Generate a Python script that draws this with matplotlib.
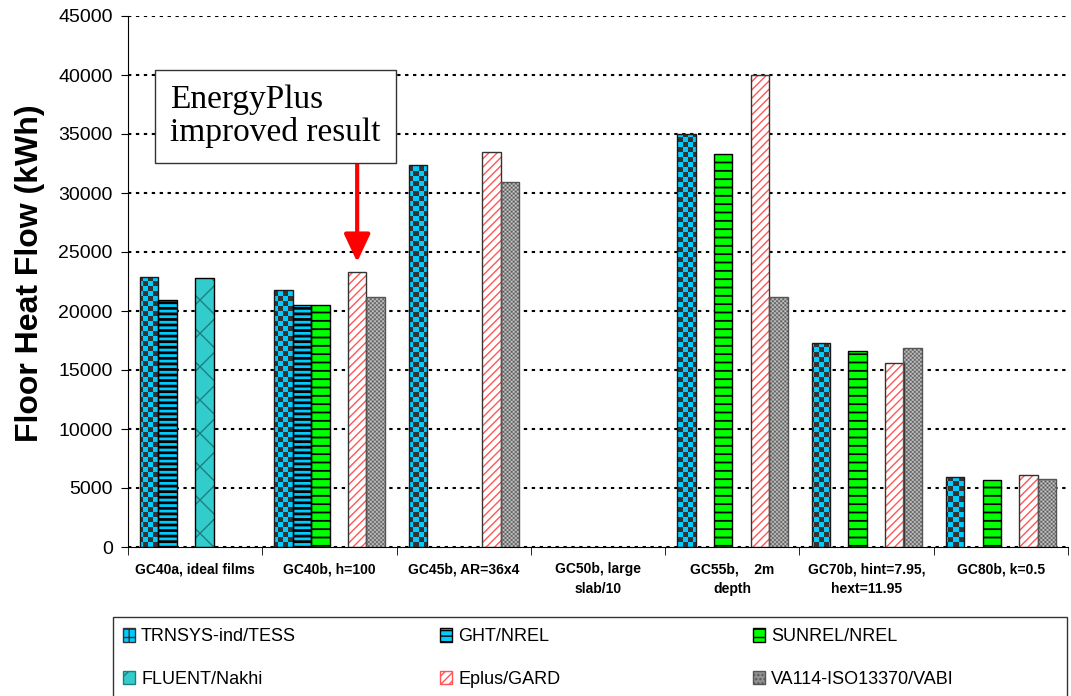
import numpy as np
import matplotlib
matplotlib.use('Agg')
import matplotlib.pyplot as plt
from matplotlib.colors import ListedColormap
from matplotlib.patches import Rectangle

plt.rcParams['font.family'] = ['Liberation Sans', 'DejaVu Sans']

categories = ['GC40a, ideal films', 'GC40b, h=100', 'GC45b, AR=36x4', 'GC50b, large\nslab/10',
              'GC55b,    2m\ndepth', 'GC70b, hint=7.95,\nhext=11.95', 'GC80b, k=0.5']
seriesNames = ['TRNSYS-ind/TESS', 'GHT/NREL', 'SUNREL/NREL',
               'FLUENT/Nakhi', 'Eplus/GARD', 'VA114-ISO13370/VABI']
trnsys = [22900, 21800, 32400, None, 35000, 17250, 5950]
ght = [20900, 20500, None, None, None, None, None]
sunrel = [None, 20500, None, None, 33300, 16600, 5700]
fluent = [22800, None, None, None, None, None, None]
eplus = [None, 23300, 33500, None, 40000, 15600, 6100]
va114 = [None, 21200, 30900, None, 21200, 16850, 5800]

AX_W, AX_H = 940, 531
barWidth = 0.137
yMax = 45000


def slotX(j):
    return np.arange(len(categories)) - 0.41 + barWidth * (j + 0.5)


def present(vals, j):
    pts = [(x, v) for x, v in zip(slotX(j), vals) if v is not None]
    return [p[0] for p in pts], [p[1] for p in pts]


def checkerBars(ax, vals, j, cell, c1, c2, edge, interp='nearest'):
    xs, hs = present(vals, j)
    bars = ax.bar(xs, hs, barWidth, color=c1, linewidth=0, zorder=2)
    nx, ny = AX_W // cell, AX_H // cell
    grid = np.indices((ny, nx)).sum(axis=0) % 2
    cmap = ListedColormap([c1, c2])
    # keep image pixels aligned to whole screen pixels
    right = -0.5 + len(categories) * nx * cell / AX_W
    top = yMax * ny * cell / AX_H
    for b in bars:
        im = ax.imshow(grid, cmap=cmap, extent=(-0.5, right, 0, top),
                       aspect='auto', interpolation=interp, origin='lower', zorder=2.5)
        im.set_clip_path(b)
    ax.bar(xs, hs, barWidth, fill=False, edgecolor=edge, linewidth=1, zorder=3)


def hatchBars(ax, vals, j, face, hatch, hatchColor, edge, hatchWidth):
    xs, hs = present(vals, j)
    plt.rcParams['hatch.linewidth'] = hatchWidth
    bars = ax.bar(xs, hs, barWidth, color=face, edgecolor=hatchColor, hatch=hatch,
                  linewidth=0, zorder=2)
    for b in bars:
        if hasattr(b, 'set_hatch_linewidth'):
            b.set_hatch_linewidth(hatchWidth)
    ax.bar(xs, hs, barWidth, fill=False, edgecolor=edge, linewidth=1, zorder=3)


fig = plt.figure(figsize=(10.71, 6.96), dpi=100)
ax = fig.add_axes([128 / 1071, 1 - 547 / 696, AX_W / 1071, AX_H / 696])

checkerBars(ax, trnsys, 0, 5, '#00CCFF', '#333333', '#1a1a1a')
hatchBars(ax, ght, 1, '#00CCFF', '---', '#000000', '#000000', 2.0)
hatchBars(ax, sunrel, 2, '#00FF00', '--', '#000000', '#000000', 1.3)
hatchBars(ax, fluent, 3, '#33CCCC', 'x', '#1f7f7f', '#000000', 1.0)
hatchBars(ax, eplus, 4, '#FFFFFF', '////', '#FF5555', '#333333', 1.0)
checkerBars(ax, va114, 5, 2, '#555555', '#cfcfcf', '#555555', interp='antialiased')

ax.set_xlim(-0.5, len(categories) - 0.5)
ax.set_ylim(0, yMax)
ax.set_yticks(np.arange(0, yMax + 1, 5000))
ax.tick_params(axis='y', direction='out', length=5, labelsize=14, pad=6)
ax.set_xticks(np.arange(len(categories)))
ax.set_xticklabels(categories, fontsize=10, fontweight='bold', linespacing=1.5)
ax.set_xticks(np.arange(len(categories) + 1) - 0.5, minor=True)
ax.tick_params(axis='x', which='major', length=0, pad=11)
ax.tick_params(axis='x', which='minor', direction='out', length=6)
ax.grid(axis='y', color='black', linestyle=(0, (1.6, 2.2)), linewidth=1.5)
ax.set_axisbelow(True)
for s in ['top', 'right']:
    ax.spines[s].set_visible(False)

fig.text(30 / 1071, 1 - 273.5 / 696, 'Floor Heat Flow (kWh)', rotation=90, ha='center',
         va='center', fontsize=23, fontweight='bold')

# annotation for the improved EnergyPlus bar
xE = slotX(4)[1]
ax.annotate('', xy=(xE, 24150), xytext=(xE, 32500),
            arrowprops=dict(arrowstyle='-|>,head_length=0.85,head_width=0.4', color='red',
                            lw=3, mutation_scale=20, shrinkA=0, shrinkB=0))
fig.text(275.5 / 1071, 1 - 116.5 / 696, 'EnergyPlus\nimproved result', ha='center', va='center',
         multialignment='left', fontsize=24, family='Liberation Serif', linespacing=1.1,
         bbox=dict(boxstyle='square,pad=0.45', facecolor='white', edgecolor='#333333', linewidth=1))

# legend
plt.rcParams['hatch.linewidth'] = 1.0
handles = [
    Rectangle((0, 0), 1, 1, facecolor='#00CCFF', edgecolor='#333333', hatch='++'),
    Rectangle((0, 0), 1, 1, facecolor='#00CCFF', edgecolor='#000000', hatch='---'),
    Rectangle((0, 0), 1, 1, facecolor='#00FF00', edgecolor='#000000', hatch='--'),
    Rectangle((0, 0), 1, 1, facecolor='#33CCCC', edgecolor='#1f7f7f', hatch='x'),
    Rectangle((0, 0), 1, 1, facecolor='#FFFFFF', edgecolor='#FF5555', hatch='////'),
    Rectangle((0, 0), 1, 1, facecolor='#909090', edgecolor='#555555', hatch='....'),
]
for col, xPix in enumerate([123, 440, 753]):
    fig.legend([handles[col], handles[col + 3]], [seriesNames[col], seriesNames[col + 3]],
               loc='center left', bbox_to_anchor=(xPix / 1071, 1 - 658 / 696), frameon=False,
               fontsize=13, handlelength=0.65, handleheight=0.8, handletextpad=0.35,
               labelspacing=1.4, borderpad=0, borderaxespad=0)
fig.patches.append(Rectangle((113 / 1071, -0.02), (1067 - 113) / 1071, 1 - 617 / 696 + 0.02,
                             transform=fig.transFigure, fill=False, edgecolor='#333333',
                             linewidth=1))

plt.savefig('out.png', dpi=100)
